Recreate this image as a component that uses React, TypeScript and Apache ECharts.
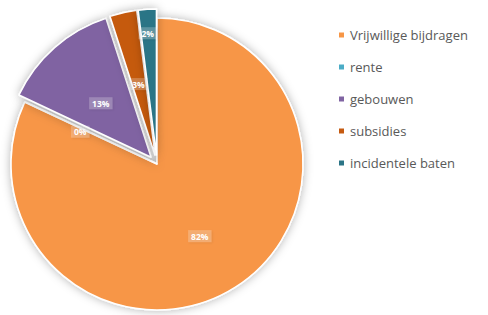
import React, { useEffect, useRef } from "react";
import * as echarts from "echarts";

const categories = ["Vrijwillige bijdragen", "rente", "gebouwen", "subsidies", "incidentele baten"];
const values = [82, 0.05, 13, 3, 2];
const colors = ["#F79646", "#4BACC6", "#8064A2", "#C55A11", "#2B7486"];
const exploded = [false, false, true, true, true];

export default function App() {
  const ref = useRef<HTMLDivElement>(null);
  useEffect(() => {
    if (!ref.current) return;
    const chart = echarts.init(ref.current, undefined, { renderer: "svg" });
    chart.setOption({
      animation: false,
      backgroundColor: "#ffffff",
      legend: {
        orient: "vertical",
        left: 332,
        top: 23,
        icon: "rect",
        itemWidth: 7,
        itemHeight: 7,
        itemGap: 18,
        selectedMode: false,
        textStyle: { color: "#595959", fontSize: 13, fontFamily: "Open Sans", lineHeight: 14 },
        data: categories,
      },
      series: [
        {
          type: "pie",
          center: [157, 164],
          radius: 146,
          startAngle: 90,
          clockwise: true,
          selectedMode: "multiple",
          selectedOffset: 9,
          avoidLabelOverlap: false,
          itemStyle: {
            borderColor: "#ffffff",
            borderWidth: 1.5,
            shadowBlur: 10,
            shadowColor: "rgba(0,0,0,0.3)",
          },
          label: {
            show: true,
            position: "inside",
            formatter: (p: any) => Math.round(p.percent) + "%",
            color: "#ffffff",
            fontSize: 8.5,
            fontWeight: "bold",
            fontFamily: "Open Sans",
            backgroundColor: "rgba(255,255,255,0.22)",
            padding: [2, 3, 1, 3],
            shadowColor: "rgba(0,0,0,0.35)",
            shadowBlur: 2,
            shadowOffsetX: 1,
            shadowOffsetY: 1,
          },
          labelLine: { show: false },
          labelLayout: (p: any) => {
            if (p.dataIndex === 4) return { dy: -46, dx: -4 };
            if (p.dataIndex === 0) return { dy: 8, dx: 2 };
            if (p.dataIndex === 1) return { dx: -8 };
            if (p.dataIndex === 2) return { dy: 3 };
            if (p.dataIndex === 3) return { dy: 3 };
            return {};
          },
          emphasis: { disabled: true },
          data: categories.map((name, i) => ({
            name,
            value: values[i],
            selected: exploded[i],
            itemStyle: { color: colors[i] },
          })),
        },
      ],
    });
    return () => chart.dispose();
  }, []);
  return (
    <div
      ref={ref}
      style={{ position: "fixed", left: 0, top: 0, width: 488, height: 315, background: "#fff" }}
    />
  );
}
